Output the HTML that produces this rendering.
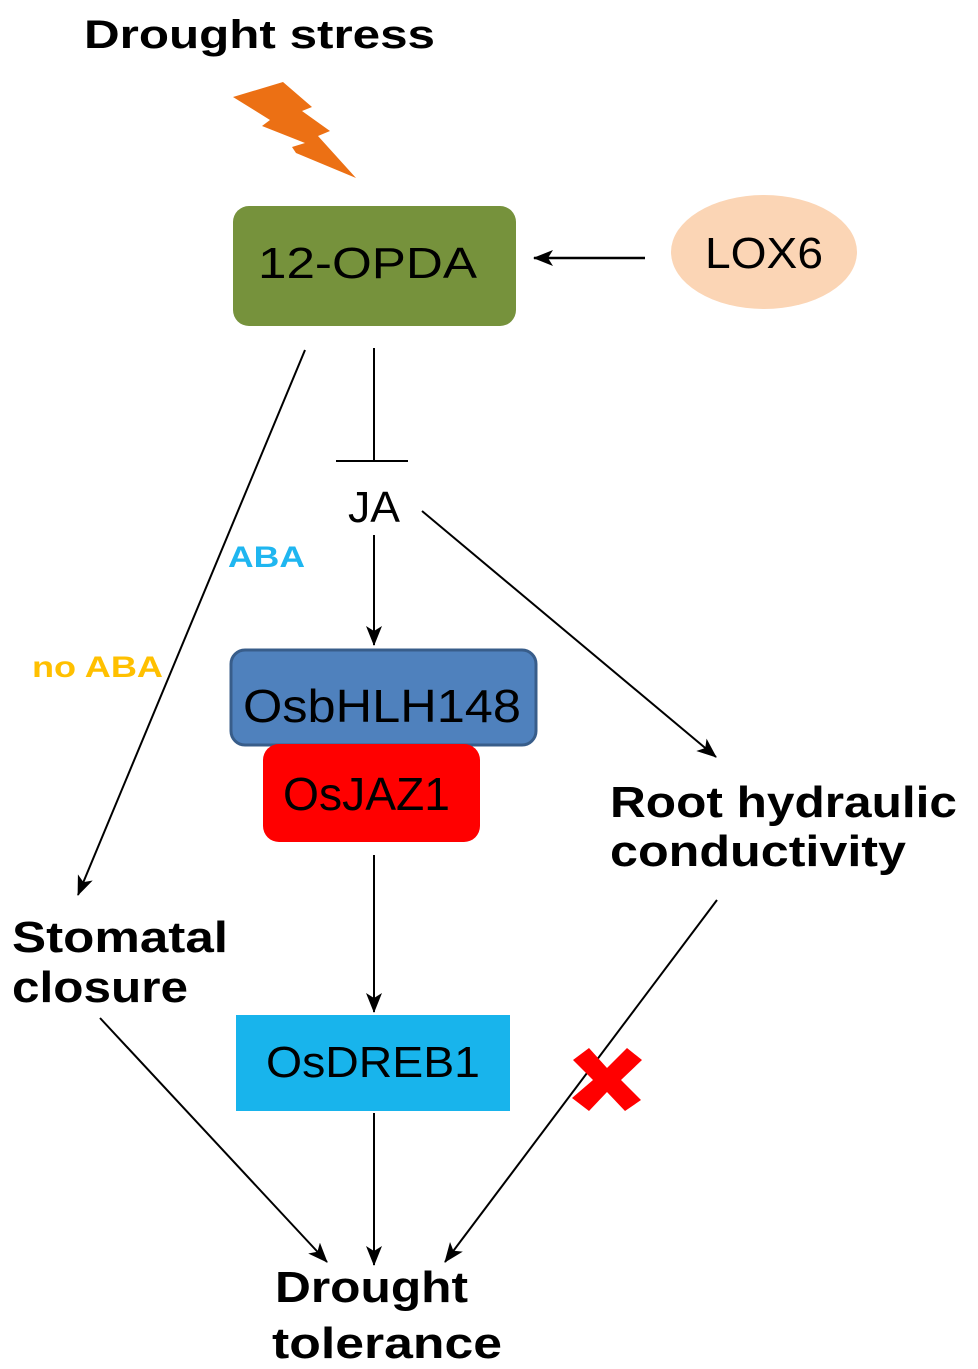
<!DOCTYPE html>
<html><head><meta charset="utf-8"><style>
body{margin:0;background:#fff;}
svg{display:block}
text{font-family:"Liberation Sans","DejaVu Sans",sans-serif;}
</style></head><body>
<svg width="978" height="1369" viewBox="0 0 978 1369" xmlns="http://www.w3.org/2000/svg">
<defs>
<marker id="a" markerWidth="22" markerHeight="18" refX="19" refY="9" orient="auto" markerUnits="userSpaceOnUse">
<path d="M0,1 L20,9 L0,17 L5,9 Z" fill="#000"/></marker>
</defs>
<text x="84" y="48" font-size="40" font-weight="bold" fill="#000" textLength="351" lengthAdjust="spacingAndGlyphs">Drought stress</text>
<polygon points="233,97 283,82 312,107 302,111 330,131 318,136 356,178 296,153 292,147 305,143 262,126 270,120" fill="#ec7014"/>
<rect x="233" y="206" width="283" height="120" rx="16" fill="#76923c"/>
<text x="258" y="278" font-size="44" fill="#000" textLength="219" lengthAdjust="spacingAndGlyphs">12-OPDA</text>
<ellipse cx="764" cy="252" rx="93" ry="57" fill="#fbd5b5"/>
<text x="705" y="268" font-size="44" fill="#000" textLength="118" lengthAdjust="spacingAndGlyphs">LOX6</text>
<line x1="645" y1="258" x2="534" y2="258" stroke="#000" stroke-width="2.5" marker-end="url(#a)"/>
<line x1="374" y1="348" x2="374" y2="460" stroke="#000" stroke-width="2"/>
<line x1="336" y1="461" x2="408" y2="461" stroke="#000" stroke-width="2"/>
<text x="348" y="522" font-size="44" fill="#000" textLength="52" lengthAdjust="spacingAndGlyphs">JA</text>
<line x1="374" y1="535" x2="374" y2="645" stroke="#000" stroke-width="2" marker-end="url(#a)"/>
<line x1="422" y1="511" x2="716" y2="757" stroke="#000" stroke-width="2" marker-end="url(#a)"/>
<line x1="305" y1="350" x2="78" y2="895" stroke="#000" stroke-width="2" marker-end="url(#a)"/>
<text x="228" y="567" font-size="30" font-weight="bold" fill="#1fb6f0" textLength="77" lengthAdjust="spacingAndGlyphs">ABA</text>
<text x="32" y="677" font-size="30" font-weight="bold" fill="#ffc000" textLength="131" lengthAdjust="spacingAndGlyphs">no ABA</text>
<rect x="231" y="650" width="305" height="95" rx="14" fill="#4f81bd" stroke="#385d8a" stroke-width="3"/>
<text x="243" y="722" font-size="46" fill="#000" textLength="278" lengthAdjust="spacingAndGlyphs">OsbHLH148</text>
<rect x="263" y="744" width="217" height="98" rx="16" fill="#ff0000"/>
<text x="283" y="810" font-size="46" fill="#000" textLength="167" lengthAdjust="spacingAndGlyphs">OsJAZ1</text>
<line x1="374" y1="855" x2="374" y2="1012" stroke="#000" stroke-width="2" marker-end="url(#a)"/>
<rect x="236" y="1015" width="274" height="96" fill="#18b4ec"/>
<text x="266" y="1077" font-size="44" fill="#000" textLength="214" lengthAdjust="spacingAndGlyphs">OsDREB1</text>
<line x1="374" y1="1113" x2="374" y2="1265" stroke="#000" stroke-width="2" marker-end="url(#a)"/>
<text x="12" y="952" font-size="44" font-weight="bold" fill="#000" textLength="216" lengthAdjust="spacingAndGlyphs">Stomatal</text>
<text x="12" y="1002" font-size="44" font-weight="bold" fill="#000" textLength="176" lengthAdjust="spacingAndGlyphs">closure</text>
<line x1="100" y1="1018" x2="327" y2="1262" stroke="#000" stroke-width="2" marker-end="url(#a)"/>
<text x="610" y="817" font-size="44" font-weight="bold" fill="#000" textLength="347" lengthAdjust="spacingAndGlyphs">Root hydraulic</text>
<text x="610" y="866" font-size="44" font-weight="bold" fill="#000" textLength="296" lengthAdjust="spacingAndGlyphs">conductivity</text>
<line x1="717" y1="900" x2="445" y2="1262" stroke="#000" stroke-width="2" marker-end="url(#a)"/>
<path transform="translate(607,1078)" d="M-34,-18 L-18,-30 L0,-10 L20,-30 L35,-18 L14,2 L34,22 L18,33 L0,14 L-18,33 L-35,20 L-14,2 Z" fill="#ff0000"/>
<text x="275" y="1302" font-size="44" font-weight="bold" fill="#000" textLength="193" lengthAdjust="spacingAndGlyphs">Drought</text>
<text x="272" y="1358" font-size="44" font-weight="bold" fill="#000" textLength="230" lengthAdjust="spacingAndGlyphs">tolerance</text>
</svg>
</body></html>
